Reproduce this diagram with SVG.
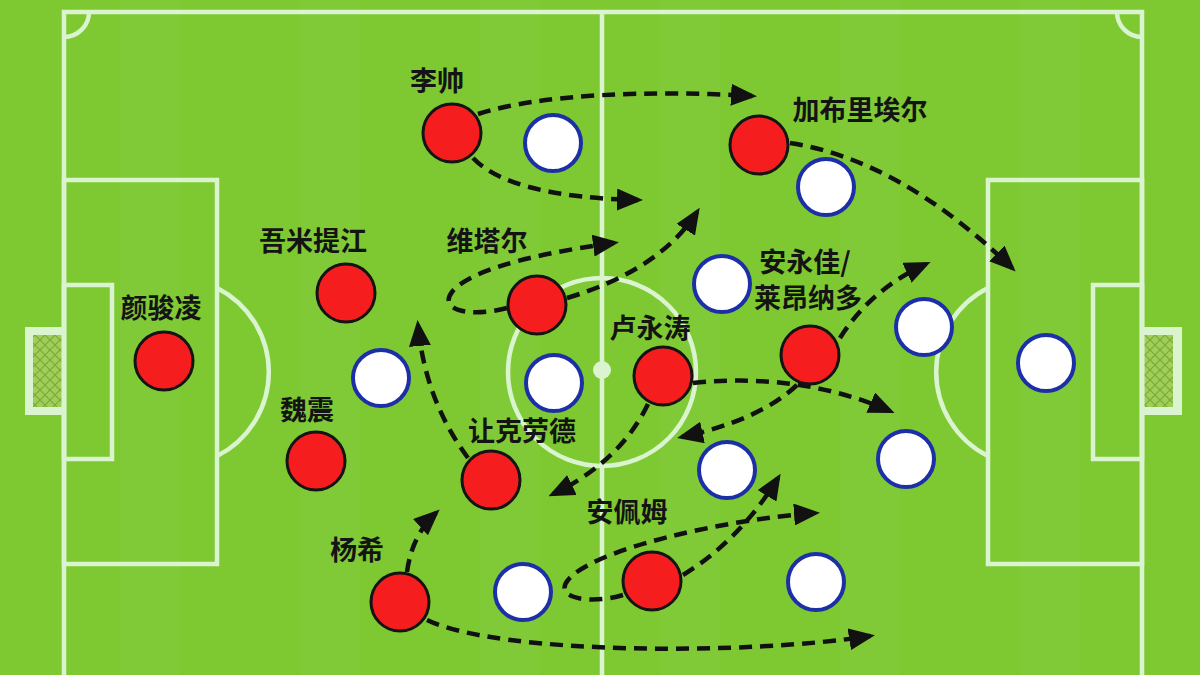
<svg xmlns="http://www.w3.org/2000/svg" width="1200" height="675" viewBox="0 0 1200 675">
<defs>
<style>
.line{fill:none;stroke:#d9f4cf;stroke-width:4.5}
.red{fill:#f51d1d;stroke:#141414;stroke-width:3}
.white{fill:#ffffff;stroke:#1c2fa6;stroke-width:4}
.lbl{font-family:"Noto Sans CJK SC","Noto Sans",sans-serif;font-size:27px;font-weight:bold;fill:#141414;text-anchor:middle}
.run{fill:none;stroke:#111;stroke-width:4.5;stroke-dasharray:13 8;marker-end:url(#ah)}
</style>
<marker id="ah" markerUnits="userSpaceOnUse" markerWidth="26" markerHeight="22" refX="21" refY="11" orient="auto">
<path d="M0,0 L26,11 L0,22 z" fill="#111"/>
</marker>
<pattern id="net" width="10" height="10" patternUnits="userSpaceOnUse">
<path d="M0,0 L10,10 M10,0 L0,10" stroke="#7aa640" stroke-width="1.2"/>
</pattern>
</defs>
<g id="pitch">
<rect x="0" y="0" width="1200" height="675" fill="#7ec832"/>
<rect x="120" y="0" width="60" height="675" fill="#84cc3a" opacity="0.6"/>
<rect x="300" y="0" width="60" height="675" fill="#84cc3a" opacity="0.6"/>
<rect x="480" y="0" width="60" height="675" fill="#84cc3a" opacity="0.6"/>
<rect x="660" y="0" width="60" height="675" fill="#84cc3a" opacity="0.6"/>
<rect x="840" y="0" width="60" height="675" fill="#84cc3a" opacity="0.6"/>
<rect x="1020" y="0" width="60" height="675" fill="#84cc3a" opacity="0.6"/>
<rect x="25" y="327" width="39" height="88" fill="#d9f4cf"/>
<rect x="33" y="335" width="29" height="72" fill="#9fcf55"/>
<rect x="33" y="335" width="29" height="72" fill="url(#net)"/>
<rect x="1142" y="327" width="40" height="88" fill="#d9f4cf"/>
<rect x="1144" y="335" width="29" height="72" fill="#9fcf55"/>
<rect x="1144" y="335" width="29" height="72" fill="url(#net)"/>
<path class="line" d="M64,700 L64,12 L1142,12 L1142,700"/>
<line class="line" x1="602" y1="12" x2="602" y2="700"/>
<rect class="line" x="64" y="180" width="153" height="384"/>
<rect class="line" x="64" y="285" width="48" height="174"/>
<rect class="line" x="988" y="180" width="154" height="384"/>
<rect class="line" x="1093" y="285" width="49" height="174"/>
<path class="line" d="M217,288 A94,94 0 0 1 217,456"/>
<path class="line" d="M988,288 A94,94 0 0 0 988,456"/>
<circle class="line" cx="602" cy="372" r="94"/>
<circle cx="602" cy="370" r="9" fill="#d9f4cf"/>
<path class="line" d="M64,37 A25,25 0 0 0 89,12"/>
<path class="line" d="M1117,12 A25,25 0 0 0 1142,37"/>
</g>
<g id="connectors">
<path class="run" d="M478,114 C540,94 650,90 752,96"/>
<path class="run" d="M473,158 Q510,197 638,200"/>
<path class="run" d="M790,143 Q900,160 1012,268"/>
<path class="run" d="M507,308 C470,318 438,310 452,292 C472,266 560,250 614,243"/>
<path class="run" d="M567,298 Q660,270 697,212"/>
<path class="run" d="M468,458 Q425,400 418,325"/>
<path class="run" d="M407,572 Q412,535 436,513"/>
<path class="run" d="M427,620 C500,655 750,655 870,636"/>
<path class="run" d="M623,595 C590,605 553,598 568,580 C592,550 720,520 815,513"/>
<path class="run" d="M683,575 Q740,540 778,478"/>
<path class="run" d="M648,404 Q620,462 553,494"/>
<path class="run" d="M693,383 Q800,372 890,411"/>
<path class="run" d="M797,385 Q760,420 682,437"/>
<path class="run" d="M840,338 Q870,290 926,264"/>
</g>
<g id="opponents">
<circle class="white" cx="553" cy="143" r="28"/>
<circle class="white" cx="826" cy="187" r="28"/>
<circle class="white" cx="381" cy="378" r="28"/>
<circle class="white" cx="554" cy="383" r="28"/>
<circle class="white" cx="722" cy="284" r="28"/>
<circle class="white" cx="924" cy="327" r="28"/>
<circle class="white" cx="1046" cy="363" r="28"/>
<circle class="white" cx="727" cy="470" r="28"/>
<circle class="white" cx="906" cy="459" r="28"/>
<circle class="white" cx="523" cy="592" r="28"/>
<circle class="white" cx="816" cy="582" r="28"/>
</g>
<g id="p-yanjunling"><circle class="red" cx="164" cy="361" r="29"/><text class="lbl" x="161" y="318">颜骏凌</text></g>
<g id="p-wumitijiang"><circle class="red" cx="346" cy="293" r="29"/><text class="lbl" x="313" y="251">吾米提江</text></g>
<g id="p-weizhen"><circle class="red" cx="316" cy="461" r="29"/><text class="lbl" x="307" y="420">魏震</text></g>
<g id="p-lishuai"><circle class="red" cx="452" cy="133" r="29"/><text class="lbl" x="437" y="91">李帅</text></g>
<g id="p-vital"><circle class="red" cx="537" cy="305" r="29"/><text class="lbl" x="487" y="251">维塔尔</text></g>
<g id="p-jeanclaude"><circle class="red" cx="491" cy="480" r="29"/><text class="lbl" x="522" y="441">让克劳德</text></g>
<g id="p-yangxi"><circle class="red" cx="400" cy="602" r="29"/><text class="lbl" x="357" y="560">杨希</text></g>
<g id="p-luyongtao"><circle class="red" cx="663" cy="376" r="29"/><text class="lbl" x="650" y="338">卢永涛</text></g>
<g id="p-anpeimu"><circle class="red" cx="652" cy="581" r="29"/><text class="lbl" x="627" y="522">安佩姆</text></g>
<g id="p-gabriel"><circle class="red" cx="759" cy="145" r="29"/><text class="lbl" x="860" y="120">加布里埃尔</text></g>
<g id="p-anyongjia"><circle class="red" cx="810" cy="355" r="29"/><text class="lbl" x="805" y="272">安永佳/</text><text class="lbl" x="808" y="308">莱昂纳多</text></g>
</svg>
